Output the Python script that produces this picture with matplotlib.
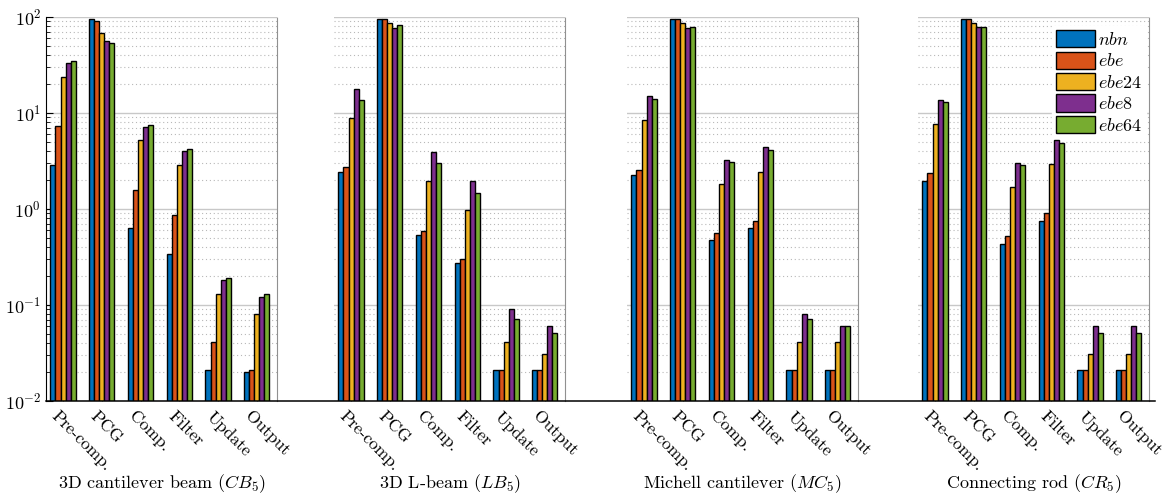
import numpy as np
import matplotlib
matplotlib.use('Agg')
import matplotlib.pyplot as plt
import matplotlib.transforms as mtransforms
from matplotlib.lines import Line2D
from matplotlib.ticker import LogLocator, NullFormatter

plt.rcParams['font.family'] = 'serif'
plt.rcParams['font.serif'] = ['cmr10']
plt.rcParams['mathtext.fontset'] = 'cm'
plt.rcParams['axes.unicode_minus'] = False
plt.rcParams['axes.formatter.use_mathtext'] = True

categories = ['Pre-comp.', 'PCG', 'Comp.', 'Filter', 'Update', 'Output']
methods = ['$nbn$', '$ebe$', '$ebe24$', '$ebe8$', '$ebe64$']
colors = ['#0072BD', '#D95319', '#EDB120', '#7E2F8E', '#77AC30']
titles = ['3D cantilever beam ($CB_5$)', '3D L-beam ($LB_5$)',
          'Michell cantilever ($MC_5$)', 'Connecting rod ($CR_5$)']

# rows: nbn, ebe, ebe24, ebe8, ebe64 ; columns: categories
cb5 = [[2.87, 95, 0.63, 0.34, 0.02, 0.019],
       [7.3, 90, 1.58, 0.87, 0.04, 0.02],
       [23.5, 68, 5.2, 2.9, 0.13, 0.08],
       [33, 56, 7.1, 4.0, 0.18, 0.12],
       [35, 53, 7.5, 4.2, 0.19, 0.13]]
lb5 = [[2.45, 96, 0.54, 0.27, 0.02, 0.02],
       [2.76, 95, 0.59, 0.30, 0.02, 0.02],
       [8.9, 87, 1.94, 0.97, 0.04, 0.03],
       [17.9, 76, 3.9, 1.94, 0.09, 0.06],
       [13.6, 82, 3.0, 1.48, 0.07, 0.05]]
mc5 = [[2.24, 96, 0.475, 0.63, 0.02, 0.02],
       [2.55, 95, 0.56, 0.75, 0.02, 0.02],
       [8.4, 87, 1.84, 2.43, 0.04, 0.04],
       [14.9, 77, 3.27, 4.39, 0.08, 0.06],
       [14.0, 78, 3.06, 4.08, 0.07, 0.06]]
cr5 = [[1.96, 96, 0.43, 0.74, 0.02, 0.02],
       [2.37, 94.6, 0.52, 0.90, 0.02, 0.02],
       [7.7, 87, 1.71, 2.92, 0.03, 0.03],
       [13.8, 78, 3.01, 5.19, 0.06, 0.06],
       [12.9, 79, 2.85, 4.83, 0.05, 0.05]]
panels = [cb5, lb5, mc5, cr5]

W, H = 1165, 498
fig = plt.figure(figsize=(W / 100, H / 100), dpi=100)

lefts = [46, 334, 627, 918]
wpx = 231
top, bot = 17, 401
bw = 0.13
x = np.arange(1, len(categories) + 1)

for p, data in enumerate(panels):
    ax = fig.add_axes([lefts[p] / W, 1 - bot / H, wpx / W, (bot - top) / H])
    ax.set_axisbelow(True)
    for i, vals in enumerate(data):
        ax.bar(x + (i - 2) * bw, vals, bw, bottom=1e-3, color=colors[i],
               edgecolor='k', linewidth=1.0, label=methods[i])
    ax.set_yscale('log')
    ax.set_ylim(1e-2, 1e2)
    ax.set_xlim(0.56, 6.52)
    ax.yaxis.set_major_locator(LogLocator(base=10, numticks=10))
    ax.yaxis.set_minor_locator(LogLocator(base=10, subs=np.arange(2, 10), numticks=10))
    ax.yaxis.set_minor_formatter(NullFormatter())
    ax.grid(True, which='major', axis='y', color='#c8c8c8', linestyle='-', linewidth=1)
    ax.grid(True, which='minor', axis='y', color='#b8b8b8', linestyle=(0, (1, 2.5)), linewidth=0.8)
    ax.spines['top'].set_visible(False)
    ax.spines['bottom'].set_visible(False)
    ax.spines['right'].set_color('#909090')
    ax.spines['right'].set_linestyle((0, (1, 1)))
    ax.set_xticks(x)
    ax.set_xticklabels([])
    ax.tick_params(axis='x', direction='in', length=3, color='#707070')
    # rotated category labels, shifted a little left of the tick
    trans = ax.get_xaxis_transform() + mtransforms.ScaledTranslation(
        -9 / 100, -13 / 100, fig.dpi_scale_trans)
    for xi, cat in zip(x, categories):
        ax.text(xi, 0, cat, transform=trans, rotation=-45, ha='left',
                va='center', rotation_mode='anchor', fontsize=12.5, clip_on=False)
    if p == 0:
        ax.spines['left'].set_color('k')
        ax.tick_params(axis='y', which='both', direction='in', labelsize=13)
        ax.tick_params(axis='y', which='major', length=5)
        ax.tick_params(axis='y', which='minor', length=3)
    else:
        ax.spines['left'].set_visible(False)
        ax.tick_params(axis='y', which='both', left=False, labelleft=False)
    fig.text((lefts[p] + wpx / 2) / W, 1 - 484 / H, titles[p],
             ha='center', va='center', fontsize=13)
    if p == 3:
        leg = ax.legend(loc='upper right', bbox_to_anchor=(0.995, 0.98), fontsize=13,
                        frameon=True, fancybox=False, edgecolor='white',
                        framealpha=1, handlelength=2.15, handleheight=1.1,
                        handletextpad=0.2, labelspacing=0.2, borderpad=0.2,
                        borderaxespad=0.1)

fig.add_artist(Line2D([46 / W, 1155 / W], [1 - bot / H, 1 - bot / H],
                      color='k', linewidth=1.1))

fig.savefig('out.png', dpi=100)
